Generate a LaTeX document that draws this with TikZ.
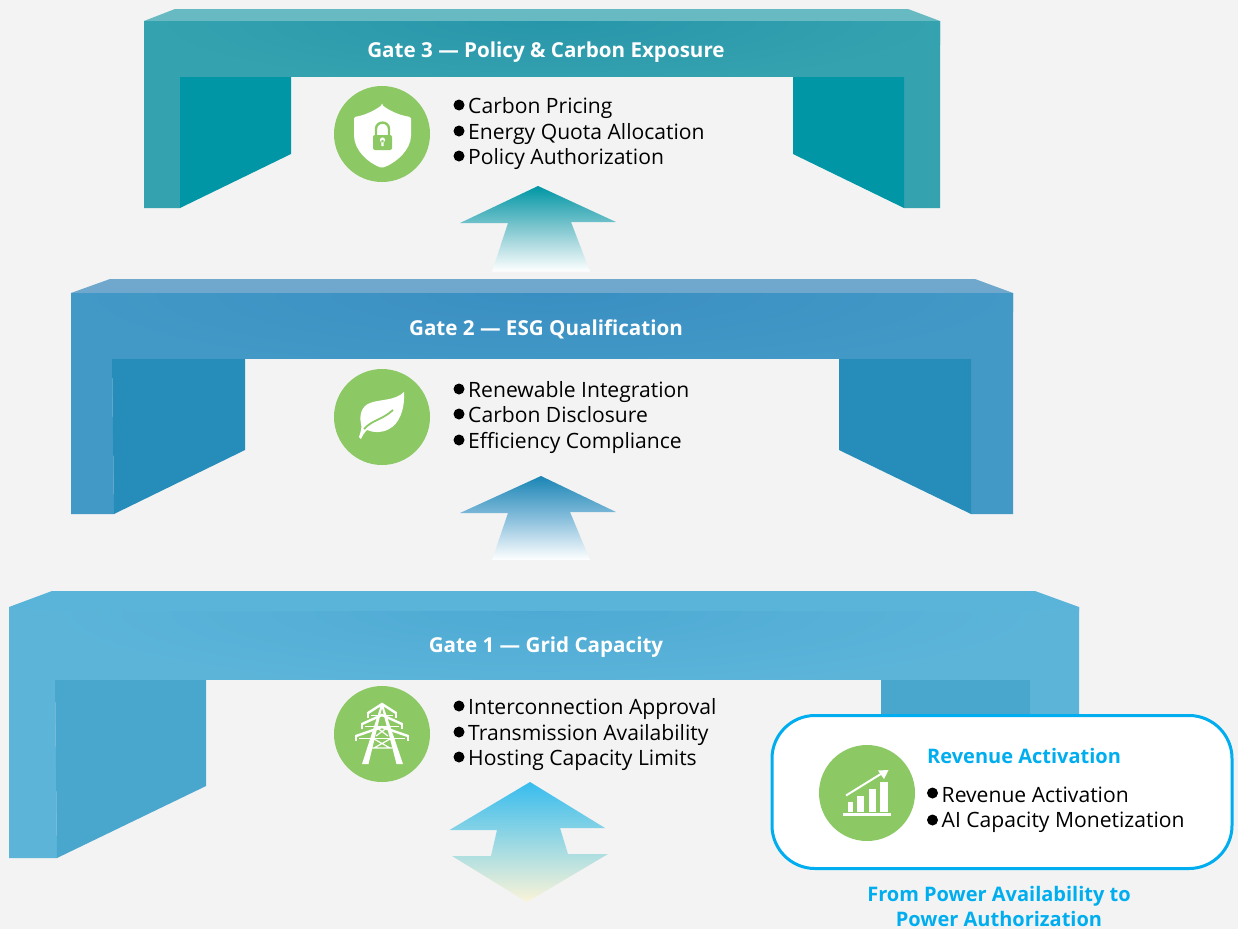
\documentclass[tikz,border=0pt]{standalone}
\usepackage{fontspec}
\setmainfont{Open Sans}
\usetikzlibrary{positioning}
\definecolor{pagebg}{HTML}{F3F3F3}
\definecolor{icongreen}{HTML}{8CC965}
\definecolor{skyline}{HTML}{00AEEF}
\tikzset{
	itemtext/.style={anchor=base west,inner sep=0pt,text=black,font=\fontsize{21.1}{24}\selectfont},
	gatetitle/.style={anchor=base,inner sep=0pt,text=white,font=\bfseries\fontsize{20.6}{24}\selectfont},
	bluetitle/.style={anchor=base,inner sep=0pt,text=skyline,font=\bfseries\fontsize{20}{24}\selectfont},
	dotmark/.style={circle,fill=black,inner sep=0pt,outer sep=0pt,minimum size=11pt},
	iconbg/.style={circle,fill=icongreen,inner sep=0pt,minimum size=96pt},
	iconline/.style={draw=white,line width=#1},
}
\begin{document}
\begin{tikzpicture}[x=1pt,y=-1pt]
		\useasboundingbox (0,0) rectangle (1238,929);
		\fill[pagebg] (0,0) rectangle (1238,929);
		% gate 3
		\fill[color={rgb,255:red,104;green,186;blue,194}] (144,21) -- (175,9) -- (908,9) -- (940,21) -- cycle;
		\fill[color={rgb,255:red,53;green,163;blue,175}] (144,21) -- (940,21) -- (940,208) -- (904,208) -- (904,77) -- (180,77) -- (180,208) -- (144,208) -- cycle;
		\begin{scope}
			\clip (144,21) rectangle (940,77);
			\shade[inner color={rgb,255:red,40;green,150;blue,170},outer color={rgb,255:red,53;green,163;blue,175}] (546,21) ellipse (420 and 70);
		\end{scope}
		\fill[pagebg] (291,77) rectangle (793,84);
		\fill[color={rgb,255:red,0;green,150;blue,165}] (180,77) -- (291,77) -- (291,154) -- (180,208) -- cycle;
		\fill[color={rgb,255:red,0;green,150;blue,165}] (904,77) -- (793,77) -- (793,154) -- (904,208) -- cycle;
		% gate 2
		\fill[color={rgb,255:red,111;green,168;blue,204}] (71,293) -- (110,279) -- (975,279) -- (1013,293) -- cycle;
		\fill[color={rgb,255:red,66;green,153;blue,198}] (71,293) -- (1013,293) -- (1013,514) -- (971,514) -- (971,359) -- (112,359) -- (114,514) -- (71,514) -- cycle;
		\begin{scope}
			\clip (71,293) rectangle (1013,359);
			\shade[inner color={rgb,255:red,58;green,143;blue,194},outer color={rgb,255:red,66;green,153;blue,198}] (546,293) ellipse (480 and 80);
		\end{scope}
		\fill[pagebg] (245,359) rectangle (839,366);
		\fill[color={rgb,255:red,38;green,141;blue,187}] (112,359) -- (245,359) -- (245,450) -- (114,514) -- cycle;
		\fill[color={rgb,255:red,38;green,141;blue,187}] (971,359) -- (839,359) -- (839,450) -- (971,514) -- cycle;
		% gate 1
		\fill[color={rgb,255:red,90;green,179;blue,216}] (9,607) -- (52,591) -- (1035,591) -- (1079,607) -- (1079,611) -- (9,611) -- cycle;
		\fill[color={rgb,255:red,92;green,180;blue,217}] (9,607) -- (55,611) -- (1030,611) -- (1079,607) -- (1079,760) -- (1030,760) -- (1030,680) -- (55,680) -- (57,858) -- (9,858) -- cycle;
		\begin{scope}
			\clip (9,611) rectangle (1079,680);
			\shade[inner color={rgb,255:red,78;green,170;blue,212},outer color={rgb,255:red,92;green,180;blue,217}] (546,611) ellipse (500 and 80);
		\end{scope}
		\fill[pagebg] (206,680) rectangle (881,687);
		\fill[color={rgb,255:red,73;green,166;blue,204}] (55,680) -- (206,680) -- (206,786) -- (57,858) -- cycle;
		\fill[color={rgb,255:red,73;green,166;blue,204}] (1030,680) -- (881,680) -- (881,760) -- (1030,760) -- cycle;
		% arrows
		\shade[top color={rgb,255:red,0;green,150;blue,165},bottom color=white,middle color={rgb,255:red,130;green,200;blue,208}] (538,186) -- (616,222) -- (571,222) -- (590,271.5) -- (492,271.5) -- (508,223) -- (460,223) -- cycle;
		\shade[top color={rgb,255:red,26;green,133;blue,181},bottom color=white,middle color={rgb,255:red,135;green,190;blue,220}] (541,476) -- (616,512) -- (570,512) -- (590,560) -- (492,560) -- (508,513) -- (460,513) -- cycle;
		\shade[top color={rgb,255:red,56;green,188;blue,238},middle color={rgb,255:red,160;green,215;blue,225},bottom color={rgb,255:red,251;green,244;blue,216}] (530,782) -- (605,828) -- (560,828) -- (568,854) -- (608,854) -- (527,902) -- (452,856) -- (491,856) -- (497,830) -- (449.5,830) -- cycle;
		% gate titles
		\node[gatetitle] (gatethree) at (546,57) {Gate 3 — Policy \& Carbon Exposure};
		\node[gatetitle] (gatetwo) at (546,335) {Gate 2 — ESG Qualification};
		\node[gatetitle] (gateone) at (546,652) {Gate 1 — Grid Capacity};
		% shield icon
		\node[iconbg] (iconshield) at (382,134) {};
		\fill[white,rounded corners=1.5pt] (382,105) .. controls (374,111) and (364,115.5) .. (354,117) -- (354,134) .. controls (354,150) and (368,163) .. (382,168) .. controls (396,163) and (411,150) .. (411,134) -- (411,117) .. controls (400,115.5) and (390,111) .. (382,105) -- cycle;
		\draw[icongreen,line width=2.4pt] (376,137) -- (376,129) .. controls (376,120.5) and (389,120.5) .. (389,129) -- (389,137);
		\fill[icongreen,rounded corners=2pt] (373,135) rectangle (392,150);
		\fill[white] (382.5,140) circle (2.6) (381.3,140) rectangle (383.7,146);
		% leaf icon
		\node[iconbg] (iconleaf) at (382,417) {};
		\fill[white] (404,392) .. controls (405,410) and (399,424) .. (389,429) .. controls (382,433) and (374,433) .. (367,430) .. controls (365,432) and (362,436) .. (361,439) -- (359,437) .. controls (361,431) and (362,427) .. (361,424) .. controls (359,414) and (362,406) .. (370,403) .. controls (380,399) and (395,401) .. (404,392) -- cycle;
		\draw[icongreen,line width=1.8pt] (364,429) .. controls (372,420) and (382,420) .. (393,410);
		% tower icon
		\node[iconbg] (icontower) at (382,734) {};
		\fill[white] (380,708) -- (382,708) -- (368.5,764) -- (362,764) -- cycle;
		\fill[white] (384,708) -- (382,708) -- (396.5,764) -- (403,764) -- cycle;
		\fill[white] (382,707) circle (2.4);
		\foreach \army/\armw in {713/14,724/20,736/26}{
			\draw[iconline=2.4pt] (382-\armw,\army) -- (382,\army-9) -- (382+\armw,\army);
			\draw[iconline=1.2pt] (382-\armw+3,\army+2.5) -- (382+\armw-3,\army+2.5);
			\draw[iconline=2pt] (382-\armw,\army-1) -- (382-\armw,\army+5);
			\draw[iconline=2pt] (382+\armw,\army-1) -- (382+\armw,\army+5);
		}
		\draw[iconline=1.2pt] (374,739) -- (390,748) (390,739) -- (374,748) (372,748) -- (392,748);
		\draw[iconline=1.2pt] (376,727) -- (388,736) (388,727) -- (376,736);
		% revenue box
		\draw[fill=white,draw=skyline,line width=3pt,rounded corners=43pt] (772,715.5) rectangle (1232,868.5);
		\node[iconbg] (iconchart) at (867,793) {};
		\fill[white] (843,813) rectangle (891,815.5);
		\foreach \barl/\barr/\bart in {848/853/802,857/864/796,869/876/789,880/888/782}{
			\fill[white] (\barl,\bart) rectangle (\barr,811.5);
		}
		\draw[iconline=2pt] (846,795.5) -- (884,772);
		\fill[white] (888.5,770) -- (878,770.5) -- (884,779) -- cycle;
		% lists
		\node[dotmark] (dotA) at (459,105) {};
		\node[itemtext] (itemA) at (468,113) {Carbon Pricing};
		\node[dotmark] (dotB) at (459,131) {};
		\node[itemtext] (itemB) at (468,139) {Energy Quota Allocation};
		\node[dotmark] (dotC) at (459,156) {};
		\node[itemtext] (itemC) at (468,164) {Policy Authorization};
		\node[dotmark] (dotD) at (459,389) {};
		\node[itemtext] (itemD) at (468,397) {Renewable Integration};
		\node[dotmark] (dotE) at (459,414) {};
		\node[itemtext] (itemE) at (468,422) {Carbon Disclosure};
		\node[dotmark] (dotF) at (459,440) {};
		\node[itemtext] (itemF) at (468,448) {Efficiency Compliance};
		\node[dotmark] (dotG) at (459,706) {};
		\node[itemtext] (itemG) at (468,714) {Interconnection Approval};
		\node[dotmark] (dotH) at (459,732) {};
		\node[itemtext] (itemH) at (468,740) {Transmission Availability};
		\node[dotmark] (dotI) at (459,757) {};
		\node[itemtext] (itemI) at (468,765) {Hosting Capacity Limits};
		\node[bluetitle,anchor=base west] (revtitle) at (927,763) {Revenue Activation};
		\node[dotmark] (dotJ) at (932.5,793) {};
		\node[itemtext] (itemJ) at (941.5,802) {Revenue Activation};
		\node[dotmark] (dotK) at (932.5,820) {};
		\node[itemtext] (itemK) at (941.5,827.5) {AI Capacity Monetization};
		\node[bluetitle] (fromline) at (999,901) {From Power Availability to};
		\node[bluetitle] (toline) at (999,926.5) {Power Authorization};
\end{tikzpicture}
\end{document}
